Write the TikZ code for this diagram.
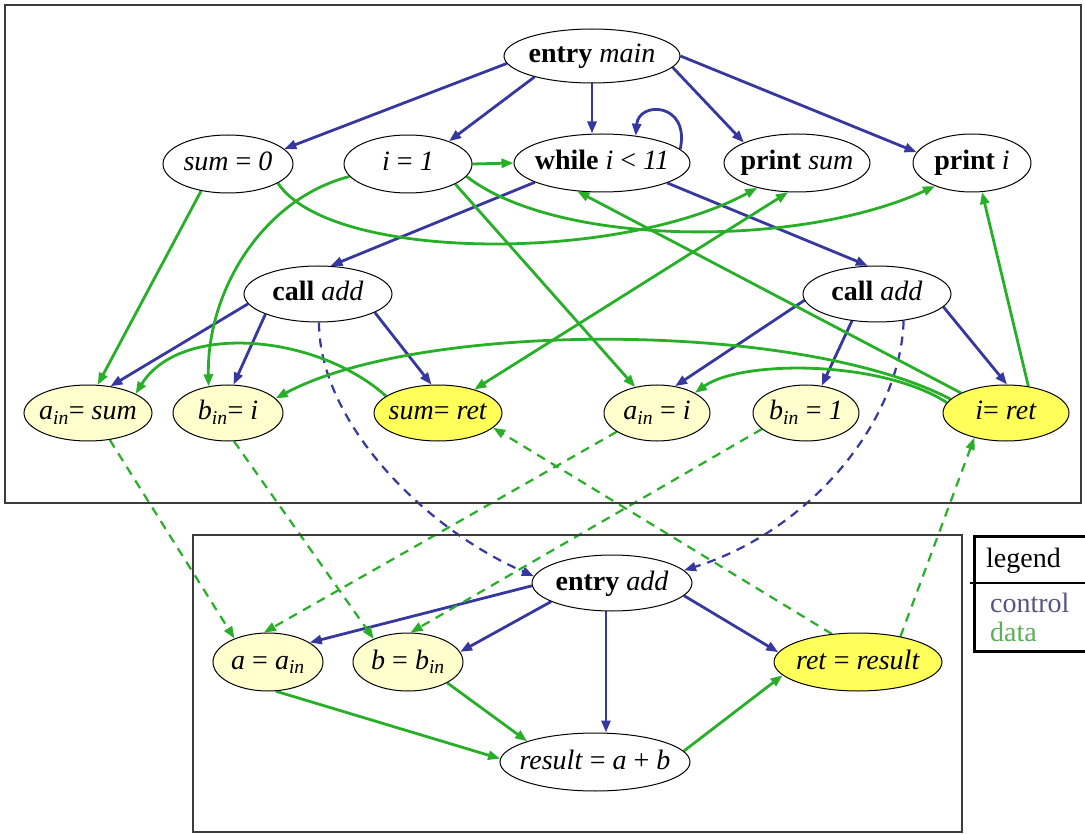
\documentclass[tikz,border=0pt]{standalone}
\usepackage{fontspec}
\setmainfont{Liberation Serif}
\usetikzlibrary{shapes.geometric,arrows.meta}
\definecolor{ctrlblue}{RGB}{55,55,160}
\definecolor{datagreen}{RGB}{40,175,40}
\definecolor{paleyellow}{RGB}{255,255,205}
\definecolor{brightyellow}{RGB}{255,255,90}
\definecolor{legendblue}{RGB}{85,85,130}
\definecolor{legendgreen}{RGB}{90,175,90}
\definecolor{framegray}{RGB}{60,60,60}
\pgfdeclarelayer{paper}
\pgfdeclarelayer{edges}
\pgfsetlayers{paper,edges,main}
% zero-width centred label, so the ellipse size comes only from the style
\newcommand{\nodetext}[1]{\makebox[0pt][c]{#1}}
\newcommand{\insub}[1]{\textsubscript{\textit{#1}}}
\begin{document}
\begin{tikzpicture}[x=1pt,y=-1pt,
  stmt/.style={ellipse,draw=black,line width=1pt,fill=white,inner sep=0pt,
    text height=17pt,text depth=3pt,font=\fontsize{28pt}{32pt}\selectfont},
  parambox/.style={stmt,fill=paleyellow},
  retbox/.style={stmt,fill=brightyellow},
  tip/.tip={Triangle[length=12pt,width=9pt]},
  ctl/.style={draw=ctrlblue,line width=2.8pt,-tip},
  dat/.style={draw=datagreen,line width=2.8pt,-tip},
  ipc/.style={line width=2.2pt,dash pattern=on 9pt off 7pt},
  legendtext/.style={anchor=west,inner sep=0pt,font=\fontsize{28pt}{32pt}\selectfont}]

\useasboundingbox (0,0) rectangle (1085,834);
\begin{pgfonlayer}{paper}
\fill[white] (0,0) rectangle (1085,834);
\end{pgfonlayer}

% procedure frames
\draw[line width=1.8pt,draw=framegray] (5,5) rectangle (1081,503);
\draw[line width=1.5pt,draw=framegray] (193,535) rectangle (962,832);

% main
\node[stmt,minimum width=176pt,minimum height=54pt] (em) at (592,56) {\nodetext{\textbf{entry} \textit{main}}};
\node[stmt,minimum width=130pt,minimum height=58pt] (s0) at (228,164) {\nodetext{\textit{sum} = \textit{0}}};
\node[stmt,minimum width=128pt,minimum height=58pt] (i1) at (408,164) {\nodetext{\textit{i} = \textit{1}}};
\node[stmt,minimum width=176pt,minimum height=58pt] (wh) at (602,163) {\nodetext{\textbf{while} \textit{i} < \textit{11}}};
\node[stmt,minimum width=146pt,minimum height=58pt] (ps) at (797,163) {\nodetext{\textbf{print} \textit{sum}}};
\node[stmt,minimum width=118pt,minimum height=58pt] (pi) at (972,163) {\nodetext{\textbf{print} \textit{i}}};
\node[stmt,minimum width=148pt,minimum height=56pt] (cl) at (318,294) {\nodetext{\textbf{call} \textit{add}}};
\node[stmt,minimum width=148pt,minimum height=56pt] (cr) at (877,294) {\nodetext{\textbf{call} \textit{add}}};
\node[parambox,minimum width=128pt,minimum height=56pt] (as) at (88,413) {\nodetext{\textit{a}\insub{in}= \textit{sum}}};
\node[parambox,minimum width=110pt,minimum height=56pt] (bi) at (228,413) {\nodetext{\textit{b}\insub{in}= \textit{i}}};
\node[retbox,minimum width=128pt,minimum height=56pt] (sr) at (438,413) {\nodetext{\textit{sum}= \textit{ret}}};
\node[parambox,minimum width=106pt,minimum height=56pt] (ai) at (657,413) {\nodetext{\textit{a}\insub{in} = \textit{i}}};
\node[parambox,minimum width=106pt,minimum height=56pt] (b1) at (806,413) {\nodetext{\textit{b}\insub{in} = \textit{1}}};
\node[retbox,minimum width=126pt,minimum height=56pt] (ir) at (1006,413) {\nodetext{\textit{i}= \textit{ret}}};

% add
\node[stmt,minimum width=160pt,minimum height=56pt] (ea) at (612,583) {\nodetext{\textbf{entry} \textit{add}}};
\node[parambox,minimum width=110pt,minimum height=58pt] (aa) at (268,662) {\nodetext{\textit{a} = \textit{a}\insub{in}}};
\node[parambox,minimum width=110pt,minimum height=58pt] (bb) at (408,662) {\nodetext{\textit{b} = \textit{b}\insub{in}}};
\node[retbox,minimum width=168pt,minimum height=58pt] (rr) at (858,662) {\nodetext{\textit{ret} = \textit{result}}};
\node[stmt,minimum width=190pt,minimum height=58pt] (res) at (595,762) {\nodetext{\textit{result} = \textit{a} + \textit{b}}};

% legend
\draw[line width=3pt] (1085,536) -- (974,536) -- (974,651) -- (1085,651);
\draw[line width=2pt] (970,583) -- (1085,583);
\node[legendtext] (lgtitle) at (986,561) {legend};
\node[legendtext,text=legendblue] (lgctrl) at (990,603) {control};
\node[legendtext,text=legendgreen] (lgdata) at (990,632) {data};

\begin{pgfonlayer}{edges}
% control dependences
\draw[ctl] (em.185) -- (s0.15);
\draw[ctl] (em.200) -- (i1.29);
\draw[ctl] (em.south) -- (em.south |- wh.north);
\draw[ctl] (em.352) -- (ps.159);
\draw[ctl] (em.east) -- (pi.169);
\draw[ctl] (wh.10) .. controls +(10,-47) and +(3,-35) .. (wh.39);
\draw[ctl] (wh.196) -- (cl.66);
\draw[ctl] (wh.343) -- (cr.108);
\draw[ctl] (cl.188) -- (as.50);
\draw[ctl] (cl.201) -- (bi.79);
\draw[ctl] (cl.342) -- (sr.103);
\draw[ctl] (cr.185) -- (ai.56);
\draw[ctl] (cr.227) -- (b1.60);
\draw[ctl] (cr.349) -- (ir.88);
\draw[ctl] (ea.182) -- (aa.25);
\draw[ctl] (ea.197) -- (bb.11);
\draw[ctl] (ea.258) -- (ea.258 |- res.north);
\draw[ctl] (ea.350) -- (rr.173);
% calls
\draw[ctl,ipc] (cl.272) .. controls +(0,98) and +(-112,-49) .. (ea.175);
\draw[ctl,ipc] (cr.315) .. controls +(-3,100) and +(127,-40) .. (ea.10);

% data dependences
\draw[dat] (i1.east) -- (wh.west);
\draw[dat] (s0.225) -- (as.71);
\draw[dat] (s0.339) .. controls +(53,79) and +(-138,75) .. (ps.212);
\draw[dat] (i1.192) .. controls +(-88,23) and +(-2,-94) .. (bi.126);
\draw[dat] (i1.337) -- (ai.130);
\draw[dat] (i1.348) .. controls +(92,71) and +(-135,62) .. (pi.212);
\draw[dat,tip-tip] (sr.33) -- (ps.253);
\draw[dat] (sr.162) .. controls +(-69,-62) and +(45,-72) .. (as.22);
\draw[dat] (ir.166) .. controls +(-151,-79) and +(145,-78) .. (bi.17);
\draw[dat] (ir.170) .. controls +(-67,-43) and +(46,-33) .. (ai.28);
\draw[dat] (ir.156) -- (wh.229);
\draw[dat] (ir.50) -- (pi.289);
\draw[dat] (aa.285) -- (res.178);
\draw[dat] (bb.332) -- (res.163);
\draw[dat] (res.7) -- (rr.190);
% parameter passing
\draw[dat,ipc] (as.309) -- (aa.145);
\draw[dat,ipc] (bi.282) -- (bb.146);
\draw[dat,ipc] (ai.205) -- (aa.98);
\draw[dat,ipc] (b1.200) -- (bb.85);
\draw[dat,ipc] (rr.133) -- (sr.345);
\draw[dat,ipc] (rr.31) -- (ir.218);
\end{pgfonlayer}
\end{tikzpicture}
\end{document}
